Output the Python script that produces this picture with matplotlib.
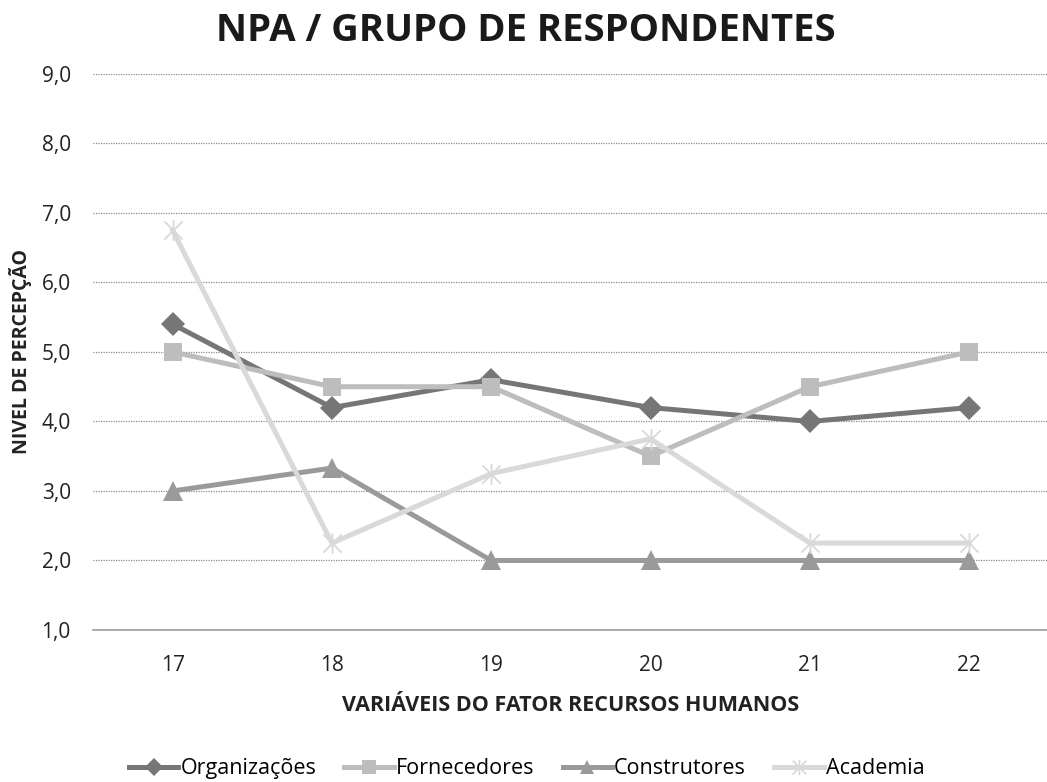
import matplotlib.pyplot as plt
from matplotlib.path import Path
import numpy as np

# dados
categorias = ['17', '18', '19', '20', '21', '22']
organizacoes = [5.4, 4.2, 4.6, 4.2, 4.0, 4.2]
fornecedores = [5.0, 4.5, 4.5, 3.5, 4.5, 5.0]
construtores = [3.0, 3.33, 2.0, 2.0, 2.0, 2.0]
academia = [6.75, 2.25, 3.25, 3.75, 2.25, 2.25]
yticks = [1, 2, 3, 4, 5, 6, 7, 8, 9]

plt.rcParams['font.family'] = ['Open Sans', 'DejaVu Sans']

# marcador estrela do Excel: X com traco vertical
estrela = Path([(-1, -1), (1, 1), (-1, 1), (1, -1), (0, -1.15), (0, 1.15)],
               [Path.MOVETO, Path.LINETO, Path.MOVETO, Path.LINETO, Path.MOVETO, Path.LINETO])

fig = plt.figure(figsize=(10.47, 7.82), dpi=100)
ax = fig.add_axes([0.0888, 0.1944, 0.913, 0.711])

x = np.arange(len(categorias))
series = [
    ('Organizações', organizacoes, '#767676', 'D', 12),
    ('Fornecedores', fornecedores, '#bdbdbd', 's', 13),
    ('Construtores', construtores, '#9a9a9a', '^', 14),
    ('Academia', academia, '#d9d9d9', estrela, 15),
]
for nome, vals, cor, mk, ms in series:
    ax.plot(x, vals, color=cor, lw=3.6, marker=mk, ms=ms, mew=1.3 if mk is estrela else 0,
            mec=cor, mfc=cor, label=nome, solid_joinstyle='miter')

ax.set_xlim(-0.5, len(categorias) - 0.5)
ax.set_ylim(1, 9)
ax.set_yticks(yticks)
ax.set_yticklabels([f'{v:.1f}'.replace('.', ',') for v in yticks], fontsize=15, color='#222222')
ax.set_xticks(x)
ax.set_xticklabels(categorias, fontsize=15, color='#222222')
ax.tick_params(axis='y', length=0, pad=16)
ax.tick_params(axis='x', length=0, pad=18)

for v in yticks[1:]:
    ax.axhline(v, color='#8c8c8c', lw=0.9, ls=(0, (1, 1)), zorder=0)
for s in ['top', 'right', 'left']:
    ax.spines[s].set_visible(False)
ax.spines['bottom'].set_color('#9a9a9a')
ax.spines['bottom'].set_linewidth(1.2)

ax.set_ylabel('NIVEL DE PERCEPÇÃO', fontsize=14, fontweight='bold', color='#222222')
ax.yaxis.set_label_coords(-0.064, 0.5)
ax.set_xlabel('VARIÁVEIS DO FATOR RECURSOS HUMANOS', fontsize=15.5, fontweight='bold',
              color='#222222', labelpad=14)
fig.suptitle('NPA / GRUPO DE RESPONDENTES', x=0.502, y=0.985, fontsize=27.5, fontweight='bold',
             color='#1a1a1a')

fig.legend(loc='center', bbox_to_anchor=(0.503, 0.017), ncol=4, frameon=False, fontsize=15.5,
           handlelength=2.3, handletextpad=0.1, columnspacing=1.3, markerscale=0.75)

fig.savefig('out.png', dpi=100)
